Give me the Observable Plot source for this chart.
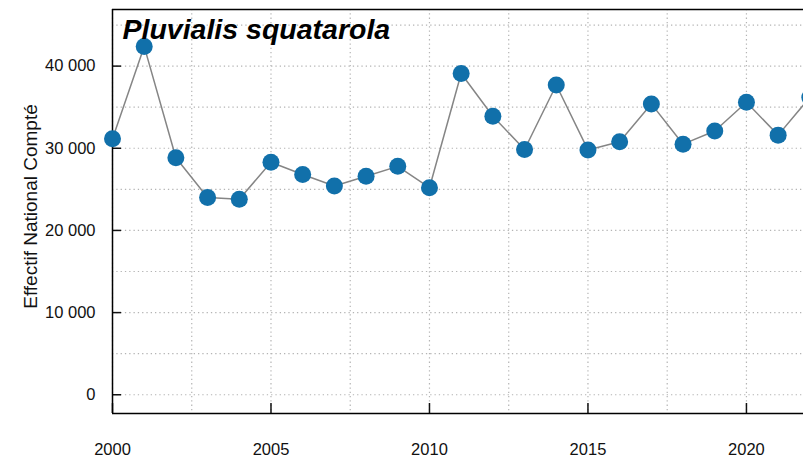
<!DOCTYPE html>
<html>
<head>
<meta charset="utf-8">
<script src="https://cdn.jsdelivr.net/npm/d3@7"></script>
<script src="https://cdn.jsdelivr.net/npm/@observablehq/plot@0.6"></script>
<style>
  html, body { margin: 0; padding: 0; background: white; overflow: hidden; }
</style>
</head>
<body>
<div id="chart"></div>
<script>
const title = "Pluvialis squatarola";
const yLabel = "Effectif National Compté";
const years = [2000, 2001, 2002, 2003, 2004, 2005, 2006, 2007, 2008, 2009, 2010, 2011,
               2012, 2013, 2014, 2015, 2016, 2017, 2018, 2019, 2020, 2021, 2022];
const counts = [31150, 42400, 28850, 24000, 23800, 28300, 26800, 25400, 26600, 27800, 25200, 39100,
                33900, 29850, 37700, 29800, 30800, 35400, 30500, 32100, 35600, 31600, 36200];
const xTicks = [2000, 2005, 2010, 2015, 2020];
const xGrid = [2000, 2002.5, 2005, 2007.5, 2010, 2012.5, 2015, 2017.5, 2020, 2022.5];
const yTicks = [0, 10000, 20000, 30000, 40000];
const yTickLabels = ["0", "10 000", "20 000", "30 000", "40 000"];
const yGrid = [0, 5000, 10000, 15000, 20000, 25000, 30000, 35000, 40000, 45000];

const data = years.map((year, i) => ({year, count: counts[i]}));
const font = "'Liberation Sans', Arial, sans-serif";

const chart = Plot.plot({
  width: 803,
  height: 458,
  marginLeft: 112,
  marginRight: 0,
  marginTop: 9,
  marginBottom: 45,
  style: {background: "white", overflow: "hidden"},
  x: {domain: [2000, 2021.8]},
  y: {domain: [-2280, 46890]},
  marks: [
    Plot.gridX(xGrid, {stroke: "#b4b4b4", strokeOpacity: 1, strokeWidth: 1.2, strokeDasharray: "1.3,3"}),
    Plot.gridY(yGrid, {stroke: "#b4b4b4", strokeOpacity: 1, strokeWidth: 1.2, strokeDasharray: "1.3,3"}),
    Plot.axisX(xTicks, {tickSize: -10, tickPadding: 40, tickFormat: d => String(d),
      fontSize: 16.5, fontFamily: font, color: "#111", strokeWidth: 1.5, label: null}),
    Plot.axisY(yTicks, {tickSize: -9, tickPadding: 26, tickFormat: d => yTickLabels[yTicks.indexOf(d)],
      fontSize: 16.5, fontFamily: font, color: "#111", strokeWidth: 1.5, label: null}),
    Plot.ruleX([2000], {stroke: "black", strokeWidth: 1.5}),
    Plot.ruleY([-2280, 46890], {stroke: "black", strokeWidth: 1.5}),
    Plot.line(data, {x: "year", y: "count", stroke: "#858585", strokeWidth: 1.5}),
    Plot.dot(data, {x: "year", y: "count", r: 8.5, fill: "#1170aa", stroke: "none"}),
    Plot.text([title], {frameAnchor: "top-left", dx: 10, dy: 9, lineAnchor: "top", textAnchor: "start",
      fontSize: 28.5, fontWeight: "bold", fontStyle: "italic", fontFamily: font, fill: "black"}),
    Plot.text([yLabel], {frameAnchor: "left", dx: -76, dy: -5, rotate: -90, lineAnchor: "bottom", textAnchor: "middle",
      fontSize: 19, fontFamily: font, fill: "#111"})
  ]
});
document.getElementById("chart").appendChild(chart);
</script>
</body>
</html>
